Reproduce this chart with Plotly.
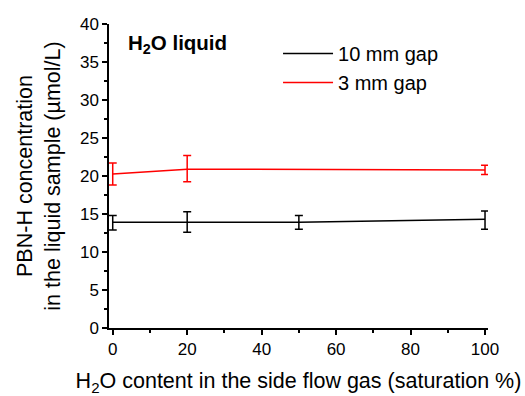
import plotly.graph_objects as go

x_10mm = [0, 20, 50, 100]
y_10mm = [13.9, 13.9, 13.9, 14.3]
err_10mm_plus = [0.9, 1.4, 0.9, 1.1]
err_10mm_minus = [1.0, 1.3, 0.9, 1.3]

x_3mm = [0, 20, 100]
y_3mm = [20.25, 20.9, 20.8]
err_3mm_plus = [1.45, 1.8, 0.6]
err_3mm_minus = [1.45, 1.65, 0.6]

x_title = "H<sub>2</sub>O content in the side flow gas (saturation %)"
y_title = "PBN-H concentration<br>in the liquid sample (µmol/L)"
panel_label = "<b>H<sub>2</sub>O liquid</b>"

FONT = "Arial, Liberation Sans, sans-serif"

fig = go.Figure()
fig.add_trace(go.Scatter(
    x=x_10mm, y=y_10mm, mode="lines", name="10 mm gap",
    line=dict(color="black", width=1.5),
    error_y=dict(type="data", symmetric=False, array=err_10mm_plus,
                 arrayminus=err_10mm_minus, color="black", thickness=1.5, width=4),
))
fig.add_trace(go.Scatter(
    x=x_3mm, y=y_3mm, mode="lines", name="3 mm gap",
    line=dict(color="red", width=1.5),
    error_y=dict(type="data", symmetric=False, array=err_3mm_plus,
                 arrayminus=err_3mm_minus, color="red", thickness=1.5, width=4),
))

fig.update_layout(
    width=525, height=396,
    margin=dict(l=109, r=37, t=24, b=68),
    paper_bgcolor="white", plot_bgcolor="white",
    font=dict(family=FONT, size=17, color="black"),
    showlegend=True,
    legend=dict(x=0.446, y=0.967, xanchor="left", yanchor="top",
                font=dict(size=20), bgcolor="rgba(0,0,0,0)", itemwidth=50,
                tracegroupgap=0),
    xaxis=dict(
        range=[-1, 100.8], showline=True, linecolor="black", linewidth=1.5,
        ticks="outside", ticklen=5, tickwidth=1.5, tickcolor="black",
        tick0=0, dtick=20, showgrid=False, zeroline=False, automargin=False,
        minor=dict(ticks="outside", ticklen=3, tickwidth=1.5, tickcolor="black", dtick=10),
        tickfont=dict(size=17),
        title=dict(text=x_title, font=dict(size=21.5), standoff=20),
    ),
    yaxis=dict(
        range=[0, 40], showline=True, linecolor="black", linewidth=1.5,
        ticks="outside", ticklen=5, tickwidth=1.5, tickcolor="black",
        tick0=0, dtick=5, showgrid=False, zeroline=False, automargin=False,
        minor=dict(ticks="outside", ticklen=3, tickwidth=1.5, tickcolor="black", dtick=2.5),
        tickfont=dict(size=17),
        title=dict(text=y_title, font=dict(size=21.5), standoff=13),
    ),
    annotations=[dict(
        text=panel_label, xref="paper", yref="paper",
        x=0.045, y=0.935, xanchor="left", yanchor="middle", showarrow=False,
        font=dict(size=20.5),
    )],
)

fig.write_html("out.html")
